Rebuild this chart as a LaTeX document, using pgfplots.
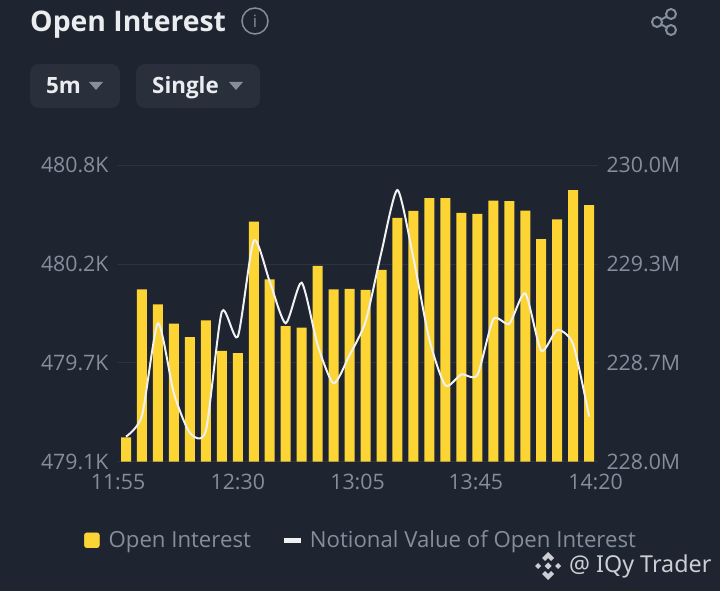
\documentclass[border=0pt]{standalone}
\usepackage{fontspec}
\setmainfont{Open Sans}
\newfontfamily\wmfont{Noto Sans}
\usepackage{pgfplots}
\pgfplotsset{compat=1.18}
\usepackage{pgfplotstable}
\definecolor{bgc}{HTML}{1E2530}
\definecolor{pill}{HTML}{2A303B}
\definecolor{gridc}{HTML}{2C333E}
\definecolor{txt}{HTML}{848E9C}
\definecolor{titlec}{HTML}{EAECEF}
\definecolor{yel}{HTML}{FCD535}
\definecolor{linec}{HTML}{F0F1F3}
\pgfplotstableread{
i oi
0 479.240
1 480.089
2 480.003
3 479.892
4 479.815
5 479.911
6 479.735
7 479.723
8 480.477
9 480.146
10 479.878
11 479.869
12 480.223
13 480.089
14 480.091
15 480.085
16 480.200
17 480.498
18 480.538
19 480.611
20 480.611
21 480.527
22 480.521
23 480.597
24 480.594
25 480.540
26 480.376
27 480.490
28 480.657
29 480.571
}\oidata
\pgfplotstableread{
i nv
0 228.169
1 228.310
2 228.934
3 228.461
4 228.195
5 228.209
6 229.012
7 228.844
8 229.492
9 229.215
10 228.934
11 229.208
12 228.787
13 228.529
14 228.720
15 228.945
16 229.417
17 229.833
18 229.372
19 228.821
20 228.515
21 228.589
22 228.585
23 228.961
24 228.931
25 229.136
26 228.749
27 228.889
28 228.792
29 228.304
}\nvdata
\pgfplotsset{base/.style={
  at={(117pt,129.3pt)}, anchor=south west, scale only axis,
  width=481pt, height=296.4pt,
  xmin=-0.5636, xmax=29.555,
  major tick length=0pt,
  axis line style={draw=none},
  tick label style={font=\fontsize{21.3}{24}\selectfont, text=txt},
  xtick={-0.5,7,14.5,21.9,29.4},
  xticklabels={11:55,12:30,13:05,13:45,14:20},
  xticklabel style={yshift=-9pt},
  clip=false,
}}
\begin{document}
\begin{tikzpicture}[x=1pt,y=1pt]
\fill[bgc,use as bounding box] (0,0) rectangle (720,591);
% header
\node[anchor=base west,inner sep=0,text=titlec,font=\fontsize{28.35}{32}\selectfont\bfseries] at (30,559.5) {Open Interest};
\draw[txt,line width=1.5pt] (255,570) circle (13);
\node[text=txt,inner sep=0,font=\fontsize{17}{20}\selectfont] at (255,570) {i};
% share icon
\begin{scope}[txt,line width=2pt]
\draw (657,569) -- (671,577) (657,569) -- (671,561);
\fill[bgc] (657,569) circle (5) (671,577) circle (5) (671,561) circle (5);
\draw (657,569) circle (5) (671,577) circle (5) (671,561) circle (5);
\end{scope}
% pills
\fill[pill,rounded corners=9pt] (30,483) rectangle (120,527);
\fill[pill,rounded corners=9pt] (136,483) rectangle (260,527);
\node[anchor=base west,inner sep=0,text=titlec,font=\fontsize{22.4}{24}\selectfont\bfseries] at (46,497) {5m};
\node[anchor=base west,inner sep=0,text=titlec,font=\fontsize{22.4}{24}\selectfont\bfseries] at (152,497) {Single};
\fill[txt] (89,509) -- (103,509) -- (96,501) -- cycle;
\fill[txt] (229,509) -- (243,509) -- (236,501) -- cycle;
% bars
\begin{axis}[base,
  ymin=479.1, ymax=480.8,
  ytick={479.1,479.6667,480.2333,480.8},
  yticklabels={479.1K,479.7K,480.2K,480.8K},
  yticklabel style={xshift=-5pt},
  ymajorgrids, major grid style={gridc,line width=1pt},
]
\addplot[ybar,bar width=10pt,bar shift=0pt,fill=yel,draw=none] table[x=i,y=oi] {\oidata};
\end{axis}
% line
\begin{axis}[base,
  ymin=228, ymax=230,
  axis y line*=right, axis x line=none,
  ytick={228,228.6667,229.3333,230},
  yticklabels={228.0M,228.7M,229.3M,230.0M},
  yticklabel style={xshift=5pt},
  legend columns=2,
  legend style={at={(-33pt,-90pt)},anchor=south west,draw=none,fill=none,
    font=\fontsize{22.2}{25}\selectfont,text=txt,
    column sep=2pt,inner sep=0pt,
    /tikz/every even column/.append style={column sep=31pt}},
]
\addlegendimage{legend image code/.code={\fill[yel,rounded corners=2.5pt] (0pt,-7.5pt) rectangle (15pt,7.5pt);\path (20pt,0pt);}}
\addlegendentry{Open Interest}
\addplot[linec,line width=2pt,smooth,tension=0.4,
  legend image code/.code={\fill[linec] (0pt,-1.5pt) rectangle (15pt,1.5pt);\path (20pt,0pt);}]
  table[x=i,y=nv] {\nvdata};
\addlegendentry{Notional Value of Open Interest}
\end{axis}
% watermark
\begin{scope}[titlec!85!bgc]
\fill (548,39) -- (554,33) -- (551,30) -- (548,33) -- (545,30) -- (542,33) -- cycle;
\fill (548,11) -- (554,17) -- (551,20) -- (548,17) -- (545,20) -- (542,17) -- cycle;
\fill (548,28.5) -- (551.5,25) -- (548,21.5) -- (544.5,25) -- cycle;
\fill (538,28) -- (541,25) -- (538,22) -- (535,25) -- cycle;
\fill (558,28) -- (561,25) -- (558,22) -- (555,25) -- cycle;
\end{scope}
\node[anchor=base west,inner sep=0,text=titlec!85!bgc,font=\wmfont\fontsize{23.3}{26}\selectfont] at (569,18) {@ IQy Trader};
\end{tikzpicture}
\end{document}
